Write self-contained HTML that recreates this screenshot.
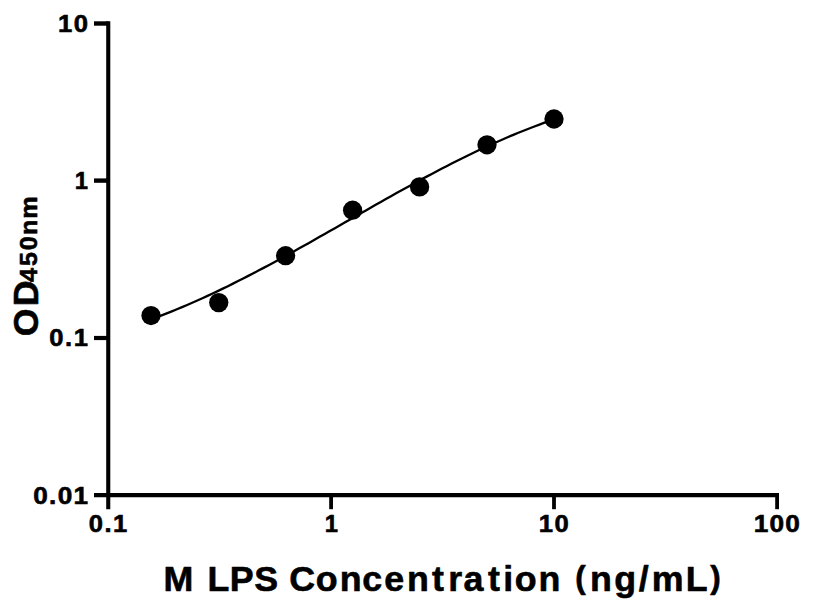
<!DOCTYPE html>
<html><head><meta charset="utf-8"><title>OD450nm vs M LPS Concentration</title><style>
html,body{margin:0;padding:0;background:#fff;}
svg{display:block;}
text{font-family:"Liberation Sans",sans-serif;font-weight:bold;fill:#000;stroke:#000;stroke-width:0.6px;stroke-linejoin:round;}
</style></head><body>
<svg width="816" height="612" viewBox="0 0 816 612">
<rect width="816" height="612" fill="#fff"/>
<g stroke="#000" fill="none" stroke-linecap="butt">
<line x1="108.25" y1="21.3" x2="108.25" y2="509.2" stroke-width="4.1"/>
<line x1="94" y1="495.1" x2="779" y2="495.1" stroke-width="4.2"/>
<line x1="94" y1="23.5" x2="108.25" y2="23.5" stroke-width="4.4"/>
<line x1="94" y1="180.6" x2="108.25" y2="180.6" stroke-width="4.4"/>
<line x1="94" y1="338.0" x2="108.25" y2="338.0" stroke-width="4.2"/>
<line x1="331.1" y1="495" x2="331.1" y2="509.2" stroke-width="3.8"/>
<line x1="554.0" y1="495" x2="554.0" y2="509.2" stroke-width="3.8"/>
<line x1="777.1" y1="495" x2="777.1" y2="509.2" stroke-width="3.8"/>
<polyline points="151.45,319.16 156.55,317.27 161.64,315.33 166.74,313.34 171.84,311.31 176.93,309.24 182.03,307.11 187.13,304.95 192.22,302.74 197.32,300.49 202.41,298.20 207.51,295.87 212.61,293.50 217.70,291.09 222.80,288.64 227.90,286.16 232.99,283.64 238.09,281.09 243.18,278.51 248.28,275.89 253.38,273.25 258.47,270.58 263.57,267.88 268.66,265.16 273.76,262.41 278.86,259.64 283.95,256.85 289.05,254.04 294.15,251.22 299.24,248.37 304.34,245.52 309.43,242.64 314.53,239.76 319.63,236.87 324.72,233.97 329.82,231.06 334.91,228.15 340.01,225.23 345.11,222.31 350.20,219.40 355.30,216.48 360.40,213.56 365.49,210.65 370.59,207.75 375.68,204.85 380.78,201.96 385.88,199.08 390.97,196.22 396.07,193.36 401.16,190.53 406.26,187.71 411.36,184.90 416.45,182.12 421.55,179.36 426.65,176.62 431.74,173.91 436.84,171.22 441.93,168.56 447.03,165.93 452.13,163.33 457.22,160.75 462.32,158.22 467.42,155.71 472.51,153.24 477.61,150.81 482.70,148.41 487.80,146.06 492.90,143.74 497.99,141.46 503.09,139.23 508.18,137.04 513.28,134.89 518.38,132.78 523.47,130.72 528.57,128.71 533.67,126.74 538.76,124.82 543.86,122.94 548.95,121.11 554.05,119.33" stroke-width="2.3" stroke-linejoin="round"/>
</g>
<g fill="#000"><circle cx="151.00" cy="315.55" r="9.65"/><circle cx="218.75" cy="302.60" r="9.65"/><circle cx="285.60" cy="255.70" r="9.65"/><circle cx="352.60" cy="210.20" r="9.65"/><circle cx="419.60" cy="186.90" r="9.65"/><circle cx="487.00" cy="144.80" r="9.65"/><circle cx="554.00" cy="119.00" r="9.65"/></g>
<text transform="scale(1.0678,1)" x="54.26 69.03" y="32.00" font-size="24">10</text>
<text transform="scale(0.9914,1)" x="75.47" y="188.90" font-size="24">1</text>
<text transform="scale(1.0649,1)" x="46.19 60.99 69.15" y="346.40" font-size="24">0.1</text>
<text transform="scale(1.0898,1)" x="30.53 45.07 52.94 67.45" y="504.00" font-size="24">0.01</text>
<text transform="scale(1.0649,1)" x="83.24 98.04 106.20" y="532.00" font-size="24">0.1</text>
<text transform="scale(0.9914,1)" x="327.55" y="531.80" font-size="24">1</text>
<text transform="scale(1.0678,1)" x="504.65 519.41" y="532.00" font-size="24">10</text>
<text transform="scale(1.0925,1)" x="689.91 704.35 718.81" y="532.30" font-size="24">100</text>
<text transform="scale(1.0023,1)" x="163.21 163.21 207.13 229.19 253.72 253.72 288.57 315.14 338.89 361.39 383.35 406.16 431.11 447.21 462.33 486.94 502.03 513.54 537.29 537.29 573.93 588.76 612.74 637.22 650.17 684.07 708.54" y="591.00" font-size="35.7" stroke-width="1.0">M LPS Concentration <tspan y="588.0" font-size="31.3">(</tspan><tspan y="591.0">n</tspan>g/mL<tspan y="588.0" font-size="31.3">)</tspan></text>
<text transform="translate(38.20,0) rotate(-90) scale(1.0017,1)" x="-335.57 -305.84" y="0" font-size="35.7" stroke-width="1.0">OD</text>
<text transform="translate(36.80,0) rotate(-90) scale(1.0491,1)" x="-268.86 -253.64 -238.61 -224.03 -208.42" y="0" font-size="24">450nm</text>
</svg>
</body></html>
